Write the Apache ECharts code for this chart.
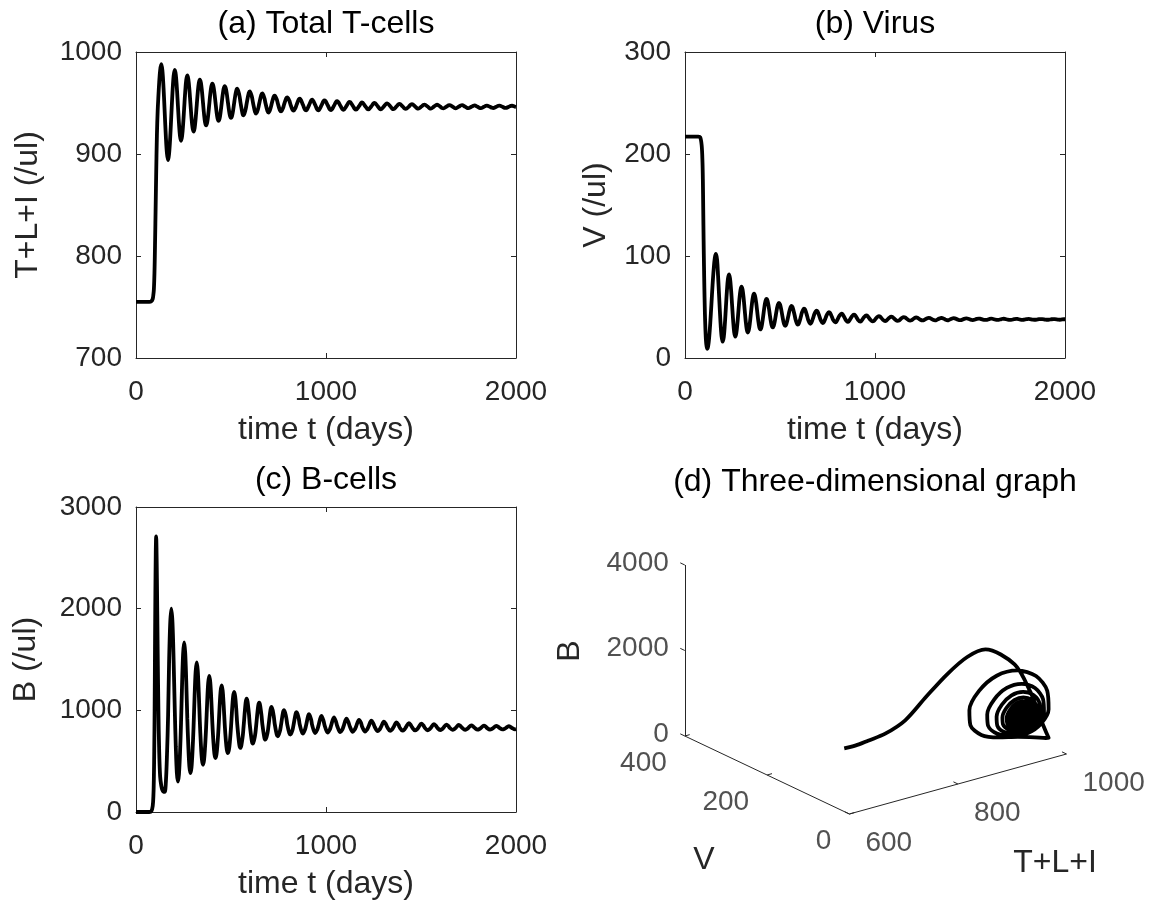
<!DOCTYPE html>
<html>
<head>
<meta charset="utf-8">
<script src="https://cdn.jsdelivr.net/npm/echarts@6/dist/echarts.min.js"></script>
<style>
html, body { margin: 0; background: #fff; }
#chart { width: 1154px; height: 911px; }
</style>
</head>
<body>
<div id="chart"></div>
<script>
// time (days), one row per oscillation cycle after the initial transient
var days = [
  0, 40, 70, 80, 88, 92, 94, 96, 98, 100, 102, 104, 106, 110, 114, 118, 122, 127,
  133, 139, 145, 151, 157, 163, 169, 174, 180, 186, 192, 198,
  204, 209.5, 215, 220.5, 226, 231.5, 237, 242.5, 248, 253.5, 259, 264.5,
  270, 275.5, 281, 286.5, 292, 297.5, 303, 308.5, 314, 319.5, 325, 330.5,
  336, 341.5, 347, 352.5, 358, 363.5, 369, 374.5, 380, 385.5, 391, 396.5,
  402, 407.4, 412.8, 418.3, 423.7, 429.1, 434.5, 439.9, 445.3, 450.8, 456.2, 461.6,
  467, 472.5, 478, 483.5, 489, 494.5, 500, 505.5, 511, 516.5, 522, 527.5,
  533, 544, 549.5, 560.5, 566, 577, 582.5, 593.5,
  599, 610, 615.5, 626.5, 632, 643, 648.5, 659.5,
  665, 675.8, 681.3, 692.1, 697.5, 708.3, 713.8, 724.6,
  730, 741, 746.5, 757.5, 763, 774, 779.5, 790.5,
  796, 807, 812.5, 823.5, 829, 840, 845.5, 856.5,
  862, 878, 889, 895, 911, 922,
  927, 943, 954, 960, 976, 987,
  993, 1009, 1020, 1026, 1042, 1053,
  1059, 1075, 1086, 1092, 1108, 1119,
  1125, 1141, 1152, 1158, 1174, 1185,
  1190, 1206, 1217, 1223, 1239, 1250,
  1256, 1272, 1283, 1289, 1305, 1316,
  1322, 1338, 1349, 1355, 1371, 1382,
  1387, 1403, 1414, 1420, 1436, 1447,
  1453, 1469, 1480, 1486, 1502, 1513,
  1519, 1535, 1546, 1552, 1568, 1579,
  1585, 1601, 1612, 1618, 1634, 1645,
  1650, 1666, 1677, 1683, 1699, 1710,
  1716, 1732, 1743, 1749, 1765, 1776,
  1782, 1798, 1809, 1815, 1831, 1842,
  1847, 1863, 1874, 1880, 1896, 1907,
  1913, 1929, 1940, 1946, 1962, 1973,
  1979, 1995, 2000
];

// total T-cells T+L+I (/ul)
var tcells = [
  755, 755, 755, 755.5, 758, 763, 767, 776, 790, 810, 832, 855, 878, 918, 942, 957, 970, 982,
  988, 981.7, 964.5, 941, 917.5, 900.3, 894, 899.9, 916.1, 938.3, 960.4, 976.6,
  982.5, 977.8, 965.1, 947.8, 930.4, 917.7, 913, 917.3, 929, 945, 961, 972.7,
  977, 973.3, 963.3, 949.5, 935.8, 925.7, 922, 925.4, 934.8, 947.5, 960.3, 969.6,
  973, 970, 961.8, 950.5, 939.3, 931, 928, 930.7, 938.3, 948.5, 958.8, 966.3,
  969, 966.6, 959.9, 950.8, 941.6, 934.9, 932.5, 934.8, 941, 949.5, 958, 964.2,
  966.5, 964.4, 958.8, 951, 943.3, 937.6, 935.5, 937.4, 942.6, 949.8, 956.9, 962.1,
  964, 957.5, 951, 939.7, 938, 943.9, 949.7, 959.8,
  961.4, 956, 950.6, 941.2, 939.7, 944.6, 949.5, 958,
  959.3, 954.7, 950, 942, 940.7, 944.9, 949, 956.2,
  957.3, 953.4, 949.5, 942.8, 941.7, 945.2, 948.6, 954.6,
  955.5, 952.3, 949, 943.4, 942.5, 945.5, 948.4, 953.5,
  954.3, 948.5, 943.5, 942.7, 948, 952.6,
  953.3, 948.1, 943.6, 942.9, 947.7, 951.9,
  952.5, 947.8, 943.7, 943.1, 947.4, 951.1,
  951.7, 947.5, 943.9, 943.3, 947.2, 950.6,
  951.1, 947.3, 944, 943.5, 947, 950,
  950.5, 947.1, 944.2, 943.7, 946.9, 949.6,
  950, 946.9, 944.2, 943.8, 946.7, 949.2,
  949.6, 946.8, 944.4, 944, 946.6, 948.9,
  949.2, 946.7, 944.5, 944.2, 946.5, 948.5,
  948.8, 946.6, 944.7, 944.4, 946.5, 948.2,
  948.5, 946.5, 944.8, 944.5, 946.4, 948,
  948.3, 946.5, 944.9, 944.7, 946.4, 947.8,
  948, 946.4, 945, 944.8, 946.4, 947.7,
  947.9, 946.4, 945.1, 944.9, 946.3, 947.4,
  947.6, 946.3, 945.2, 945, 946.3, 947.3,
  947.5, 946.3, 945.3, 945.1, 946.3, 947.3,
  947.4, 946.3, 945.3, 945.2, 946.3, 947.2,
  947.3, 946.3, 946.1
];

// virus V (/ul)
var virus = [
  217, 217, 217, 216.5, 208, 192, 175, 145, 115, 90, 68, 50, 36, 18, 11, 9, 11.7, 19.6,
  34.4, 52.6, 71.4, 87.1, 98.2, 102, 96.2, 80.5, 59, 37.5, 21.8, 16,
  20.4, 32.5, 49, 65.5, 77.6, 82, 77.9, 66.8, 51.5, 36.3, 25.1, 21,
  24.3, 33.3, 45.5, 57.8, 66.7, 70, 67, 58.8, 47.5, 36.3, 28, 25,
  27.5, 34.5, 44, 53.5, 60.5, 63, 60.7, 54.3, 45.5, 36.8, 30.3, 28,
  30, 35.5, 43, 50.5, 56, 58, 56.1, 51, 44, 37, 31.9, 30,
  31.6, 36, 42, 48, 52.4, 54, 52.5, 48.4, 42.8, 37.1, 33, 31.5,
  32.8, 41.3, 46.1, 51, 49.8, 41.9, 37.3, 32.7,
  33.8, 40.6, 44.6, 48.5, 47.5, 41.1, 37.3, 33.6,
  34.5, 40.1, 43.3, 46.5, 45.7, 40.4, 37.4, 34.3,
  35, 39.7, 42.3, 45, 44.3, 40, 37.4, 34.9,
  35.5, 39.3, 41.4, 43.6, 43.1, 39.5, 37.5, 35.4,
  35.9, 40.7, 42.5, 42, 37.3, 35.6,
  36, 40.2, 41.7, 41.3, 37.4, 35.9,
  36.2, 39.7, 41, 40.7, 37.4, 36.2,
  36.5, 39.4, 40.5, 40.2, 37.4, 36.4,
  36.6, 39.2, 40.1, 39.9, 37.5, 36.6,
  36.8, 38.9, 39.7, 39.5, 37.5, 36.8,
  37, 38.8, 39.4, 39.2, 37.5, 36.9,
  37.1, 38.6, 39.2, 39.1, 37.6, 37,
  37.1, 38.5, 39, 38.9, 37.6, 37.1,
  37.2, 38.4, 38.8, 38.7, 37.6, 37.2,
  37.3, 38.3, 38.7, 38.6, 37.6, 37.3,
  37.3, 38.2, 38.6, 38.5, 37.6, 37.3,
  37.4, 38.2, 38.5, 38.4, 37.6, 37.4,
  37.4, 38.1, 38.4, 38.3, 37.6, 37.4,
  37.5, 38, 38.3, 38.2, 37.7, 37.5,
  37.5, 38, 38.2, 38.2, 37.7, 37.5,
  37.5, 38, 38.1, 38.1, 37.7, 37.5,
  37.6, 38, 38
];

// B-cells (/ul)
var bcells = [
  0, 0, 0, 5, 60, 180, 330, 600, 1000, 1600, 2150, 2550, 2710, 2300, 1600, 1000, 600, 350,
  260, 215, 200, 198, 288, 558, 955, 1459, 1856, 2000, 1864, 1490,
  1014, 640, 385, 300, 368, 574, 875, 1258, 1559, 1668, 1565, 1283,
  923, 640, 447, 383, 437, 601, 840, 1145, 1384, 1471, 1391, 1169,
  888, 666, 515, 465, 509, 640, 832, 1077, 1269, 1339, 1274, 1097,
  870, 693, 571, 531, 567, 674, 831, 1032, 1189, 1246, 1193, 1046,
  860, 713, 613, 580, 610, 700, 832, 1001, 1133, 1181, 1137, 1016,
  861, 658, 630, 727, 834, 1076, 1115, 982,
  858, 694, 672, 753, 841, 1043, 1075, 966,
  864, 730, 712, 777, 848, 1009, 1035, 948,
  867, 760, 745, 797, 853, 982, 1003, 931,
  863, 774, 762, 806, 855, 965, 983, 919,
  859, 770, 809, 851, 963, 907,
  855, 776, 810, 847, 946, 897,
  850, 781, 811, 844, 931, 887,
  846, 785, 812, 841, 918, 879,
  843, 789, 813, 839, 907, 873,
  840, 792, 813, 837, 898, 867,
  838, 795, 814, 834, 889, 862,
  836, 798, 815, 833, 882, 857,
  834, 800, 815, 832, 875, 853,
  833, 802, 815, 830, 869, 850,
  831, 804, 816, 829, 864, 847,
  830, 806, 817, 829, 860, 844,
  830, 808, 818, 828, 856, 842,
  829, 809, 818, 827, 852, 839,
  828, 810, 818, 827, 850, 838,
  827, 811, 818, 826, 847, 837,
  827, 812, 819, 826, 845, 835,
  826, 813, 814
];

// 3-D panel axis ticks
var tTicks3d = [600, 800, 1000];
var vTicks3d = [0, 200, 400];
var bTicks3d = [0, 2000, 4000];

var FONT = '"Liberation Sans", Arial, sans-serif';
var INK = '#262626';
var TICK_PX = 28, NAME_PX = 32;

// oblique projection of the 3-D box (pixel vectors per full axis range)
var view3d = {
  origin: [849.4, 814],     // T=600, V=0, B=0
  tVec: [217.1, -60],       // T 600 -> 1000
  vVec: [-164.6, -78],      // V 0 -> 400
  bVec: [0, -171]           // B 0 -> 4000
};
function project(t, v, b) {
  var ft = (t - 600) / 400, fv = v / 400, fb = b / 4000;
  return [
    view3d.origin[0] + ft * view3d.tVec[0] + fv * view3d.vVec[0] + fb * view3d.bVec[0],
    view3d.origin[1] + ft * view3d.tVec[1] + fv * view3d.vVec[1] + fb * view3d.bVec[1]
  ];
}

function pairs(ys) {
  return days.map(function (d, i) { return [d, ys[i]]; });
}

var panels = [
  { grid: { left: 136, top: 52, width: 380, height: 306 }, min: 700, max: 1000, step: 100,
    yName: 'T+L+I (/ul)', yGap: 92, values: tcells },
  { grid: { left: 685, top: 52, width: 380, height: 306 }, min: 0, max: 300, step: 100,
    yName: 'V (/ul)', yGap: 73, values: virus },
  { grid: { left: 136, top: 507, width: 380, height: 305 }, min: 0, max: 3000, step: 1000,
    yName: 'B (/ul)', yGap: 94, values: bcells }
];

var grids = [], xAxes = [], yAxes = [], series = [];
var labelFont = { fontSize: TICK_PX, color: INK, fontFamily: FONT, formatter: function (v) { return String(v); } };
var nameFont = { fontSize: NAME_PX, color: INK, fontFamily: FONT };

panels.forEach(function (p, k) {
  grids.push(p.grid);
  [0, 1].forEach(function (side) {
    xAxes.push({
      gridIndex: k, type: 'value', min: 0, max: 2000, interval: 1000,
      position: side ? 'top' : 'bottom',
      name: side ? '' : 'time t (days)', nameLocation: 'middle', nameGap: 56,
      nameTextStyle: nameFont,
      axisLine: { show: true, onZero: false, lineStyle: { color: INK, width: 1 } },
      axisTick: { show: true, inside: true, length: 5, lineStyle: { color: INK } },
      axisLabel: Object.assign({ show: !side, margin: 20 }, labelFont),
      splitLine: { show: false }
    });
    yAxes.push({
      gridIndex: k, type: 'value', min: p.min, max: p.max, interval: p.step,
      position: side ? 'right' : 'left',
      name: side ? '' : p.yName, nameLocation: 'middle', nameGap: p.yGap,
      nameTextStyle: nameFont,
      axisLine: { show: true, onZero: false, lineStyle: { color: INK, width: 1 } },
      axisTick: { show: true, inside: true, length: 5, lineStyle: { color: INK } },
      axisLabel: Object.assign({ show: !side, margin: 14 }, labelFont),
      splitLine: { show: false }
    });
  });
  series.push({
    type: 'line', xAxisIndex: 2 * k, yAxisIndex: 2 * k,
    data: pairs(p.values), showSymbol: false, smooth: 0.35,
    lineStyle: { color: '#000', width: 3.8 }, silent: true
  });
});

// panel (d): a full-canvas pixel cartesian system, hidden
grids.push({ left: 0, top: 0, width: 1154, height: 911 });
xAxes.push({ gridIndex: 3, type: 'value', min: 0, max: 1154, show: false });
yAxes.push({ gridIndex: 3, type: 'value', min: 0, max: 911, inverse: true, show: false });

var axisSegs = [
  [project(600, 400, 0), project(600, 400, 4000)],
  [project(600, 400, 0), project(600, 0, 0)],
  [project(600, 0, 0), project(1000, 0, 0)]
];
bTicks3d.forEach(function (b) { axisSegs.push([project(600, 400, b), project(600, 411, b)]); });
vTicks3d.forEach(function (v) { axisSegs.push([project(600, v, 0), project(609, v, 0)]); });
tTicks3d.forEach(function (t) { axisSegs.push([project(t, 0, 0), project(t, 11, 0)]); });

series.push({
  type: 'lines', coordinateSystem: 'cartesian2d', xAxisIndex: 6, yAxisIndex: 6,
  data: axisSegs.map(function (s) { return { coords: s }; }),
  lineStyle: { color: INK, width: 1, opacity: 1 }, silent: true
});

function tickLabels(points, names, align, offset) {
  return {
    type: 'scatter', xAxisIndex: 6, yAxisIndex: 6, symbolSize: 1, silent: true,
    itemStyle: { color: 'rgba(0,0,0,0)' },
    data: points.map(function (pt, i) { return { value: pt, name: String(names[i]) }; }),
    label: { show: true, formatter: '{b}', position: 'inside', align: align,
      verticalAlign: 'middle', offset: offset, fontSize: TICK_PX, color: INK, fontFamily: FONT }
  };
}
series.push(tickLabels(bTicks3d.map(function (b) { return project(600, 400, b); }), bTicks3d, 'right', [-16, -2]));
series.push(tickLabels(vTicks3d.map(function (v) { return project(600, v, 0); }), vTicks3d, 'right', [-18, 27]));
series.push(tickLabels(tTicks3d.map(function (t) { return project(t, 0, 0); }), tTicks3d, 'left', [16, 29]));

series.push({
  type: 'line', xAxisIndex: 6, yAxisIndex: 6, silent: true,
  data: days.map(function (d, i) { return project(tcells[i], virus[i], bcells[i]); }),
  showSymbol: false, smooth: 0.3,
  lineStyle: { color: '#000', width: 3.8 }
});

function title(text, x, y) {
  return { text: text, left: x, top: y, textAlign: 'center', padding: 0,
    textStyle: { fontSize: NAME_PX, fontWeight: 'normal', color: '#000', fontFamily: FONT } };
}

function nameText(text, x, y, rot) {
  return { type: 'text', x: x, y: y, rotation: rot || 0,
    style: { text: text, fill: INK, font: NAME_PX + 'px ' + FONT, textAlign: 'center', textVerticalAlign: 'middle' } };
}

var option = {
  animation: false,
  backgroundColor: '#fff',
  title: [
    title('(a) Total T-cells', 326, 8),
    title('(b) Virus', 875, 8),
    title('(c) B-cells', 326, 464),
    title('(d) Three-dimensional graph', 875, 466)
  ],
  grid: grids,
  xAxis: xAxes,
  yAxis: yAxes,
  series: series,
  graphic: [
    nameText('B', 570, 651, Math.PI / 2),
    nameText('V', 704, 860),
    nameText('T+L+I', 1055, 863)
  ]
};

var chart = echarts.init(document.getElementById('chart'));
chart.setOption(option);
</script>
</body>
</html>
